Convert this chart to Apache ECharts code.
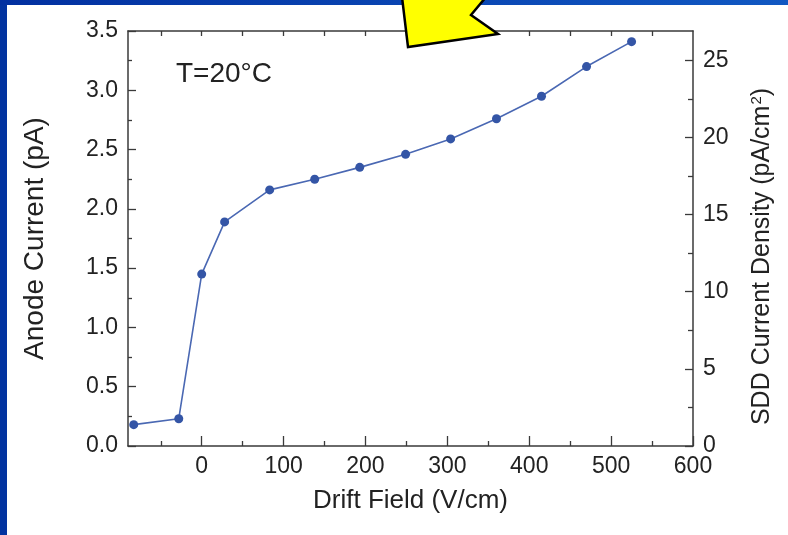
<!DOCTYPE html>
<html>
<head>
<meta charset="utf-8">
<script src="https://cdn.jsdelivr.net/npm/echarts@6/dist/echarts.min.js"></script>
<style>
  html, body { margin: 0; padding: 0; background: #ffffff; }
  #chart { width: 788px; height: 535px; }
</style>
</head>
<body>
<div id="chart"></div>
<script>
// Measured anode current versus drift field at T = 20 °C
const driftField = [-83, -28, 0, 28, 83, 138, 193, 249, 304, 360, 415, 470, 525];
const anodeCurrent = [0.18, 0.23, 1.45, 1.89, 2.16, 2.25, 2.35, 2.46, 2.59, 2.76, 2.95, 3.20, 3.41];

// Axis tick positions
const fieldTicks = [0, 100, 200, 300, 400, 500, 600];
const fieldMinorTicks = [-50, 50, 150, 250, 350, 450, 550];
const fieldTopTicks = [-50, 0, 50, 100, 150, 200, 250, 300, 350, 400, 450, 500, 550];
const densityTicks = [0, 5, 10, 15, 20, 25];
const densityMinorTicks = [2.5, 7.5, 12.5, 17.5, 22.5];

// Current density axis spans the same range as the current axis (3.5 pA)
const densityMax = 26.9;

const FONT = '"Liberation Sans", Arial, Helvetica, sans-serif';
const INK = '#222222';
const AXIS = '#3a3a3a';

const points = driftField.map((x, i) => [x, anodeCurrent[i]]);

const gridBox = { left: 128, right: 95, top: 31, bottom: 89 };

const chart = echarts.init(document.getElementById('chart'), null, { renderer: 'canvas' });

chart.setOption({
  backgroundColor: '#ffffff',
  animation: false,
  grid: [
    Object.assign({ containLabel: false }, gridBox),
    Object.assign({ containLabel: false }, gridBox)
  ],
  xAxis: [
    {
      type: 'value', gridIndex: 0, position: 'bottom',
      min: -90, max: 600,
      axisLine: { show: true, onZero: false, lineStyle: { color: AXIS, width: 1.5 } },
      axisTick: { show: true, inside: true, length: 10, customValues: fieldTicks, lineStyle: { color: AXIS, width: 1.3 } },
      axisLabel: { customValues: fieldTicks, fontSize: 23, color: INK, fontFamily: FONT, margin: 9 },
      splitLine: { show: false },
      name: 'Drift Field (V/cm)', nameLocation: 'middle', nameGap: 42,
      nameTextStyle: { fontSize: 26, color: INK, fontFamily: FONT }
    },
    {
      type: 'value', gridIndex: 0, position: 'top',
      min: -90, max: 600,
      axisLine: { show: true, onZero: false, lineStyle: { color: AXIS, width: 1.5 } },
      axisTick: { show: true, inside: true, length: 5, customValues: fieldTopTicks, lineStyle: { color: AXIS, width: 1.3 } },
      axisLabel: { show: false },
      splitLine: { show: false }
    },
    {
      type: 'value', gridIndex: 1, position: 'bottom',
      min: -90, max: 600,
      axisLine: { show: false, onZero: false },
      axisTick: { show: true, inside: true, length: 5, customValues: fieldMinorTicks, lineStyle: { color: AXIS, width: 1.3 } },
      axisLabel: { show: false },
      splitLine: { show: false }
    }
  ],
  yAxis: [
    {
      type: 'value', gridIndex: 0, position: 'left',
      min: 0, max: 3.5, interval: 0.5,
      axisLine: { show: true, onZero: false, lineStyle: { color: AXIS, width: 1.5 } },
      axisTick: { show: true, inside: true, length: 8, lineStyle: { color: AXIS, width: 1.3 } },
      minorTick: { show: true, splitNumber: 2, length: 4, lineStyle: { color: AXIS, width: 1.3 } },
      axisLabel: { formatter: v => v.toFixed(1), fontSize: 23, color: INK, fontFamily: FONT, margin: 10 },
      splitLine: { show: false },
      name: 'Anode Current (pA)', nameLocation: 'middle', nameGap: 79, nameRotate: 90,
      nameTextStyle: { fontSize: 28, color: INK, fontFamily: FONT }
    },
    {
      type: 'value', gridIndex: 0, position: 'right',
      min: 0, max: densityMax,
      axisLine: { show: true, onZero: false, lineStyle: { color: AXIS, width: 1.5 } },
      axisTick: { show: true, inside: true, length: 8, customValues: densityTicks, lineStyle: { color: AXIS, width: 1.3 } },
      axisLabel: { customValues: densityTicks, fontSize: 23, color: INK, fontFamily: FONT, margin: 10 },
      splitLine: { show: false },
      name: 'SDD Current Density (pA/cm{sup|2})', nameLocation: 'middle', nameGap: 55, nameRotate: 90,
      nameTextStyle: {
        fontSize: 25, lineHeight: 28, color: INK, fontFamily: FONT,
        padding: [0, 36, 0, 0],
        rich: {
          sup: {
            fontSize: 15, lineHeight: 15, color: INK, fontFamily: FONT,
            verticalAlign: 'bottom', padding: [0, 0, 12, 1]
          }
        }
      }
    },
    {
      type: 'value', gridIndex: 1, position: 'right',
      min: 0, max: densityMax,
      axisLine: { show: false, onZero: false },
      axisTick: { show: true, inside: true, length: 5, customValues: densityMinorTicks, lineStyle: { color: AXIS, width: 1.3 } },
      axisLabel: { show: false },
      splitLine: { show: false }
    }
  ],
  series: [
    {
      type: 'line',
      xAxisIndex: 0, yAxisIndex: 0,
      data: points,
      symbol: 'circle', symbolSize: 9,
      lineStyle: { color: '#4a68b3', width: 1.6 },
      itemStyle: { color: '#3455a6' },
      z: 3
    }
  ],
  graphic: [
    // slide frame: dark blue band on the left and gradient band along the top
    {
      type: 'rect', left: 0, top: 0, z: 10,
      shape: { x: 0, y: 0, width: 7, height: 535 },
      style: { fill: '#0233a0' }
    },
    {
      type: 'rect', left: 0, top: 0, z: 10,
      shape: { x: 0, y: 0, width: 788, height: 5 },
      style: {
        fill: new echarts.graphic.LinearGradient(0, 0, 1, 0, [
          { offset: 0, color: '#0230a0' },
          { offset: 1, color: '#1158c2' }
        ])
      }
    },
    // yellow callout arrow
    {
      type: 'polygon', z: 20,
      shape: { points: [[402, -3], [408, 47], [498, 34], [471, 15], [486, -3]] },
      style: { fill: '#ffff00', stroke: '#000000', lineWidth: 2.5, lineJoin: 'miter' }
    },
    // temperature annotation
    {
      type: 'text', z: 15,
      x: 176, y: 74.5,
      style: {
        text: 'T=20°C', fill: INK, fontSize: 28, fontFamily: FONT,
        verticalAlign: 'middle', align: 'left'
      }
    }
  ]
});
</script>
</body>
</html>
